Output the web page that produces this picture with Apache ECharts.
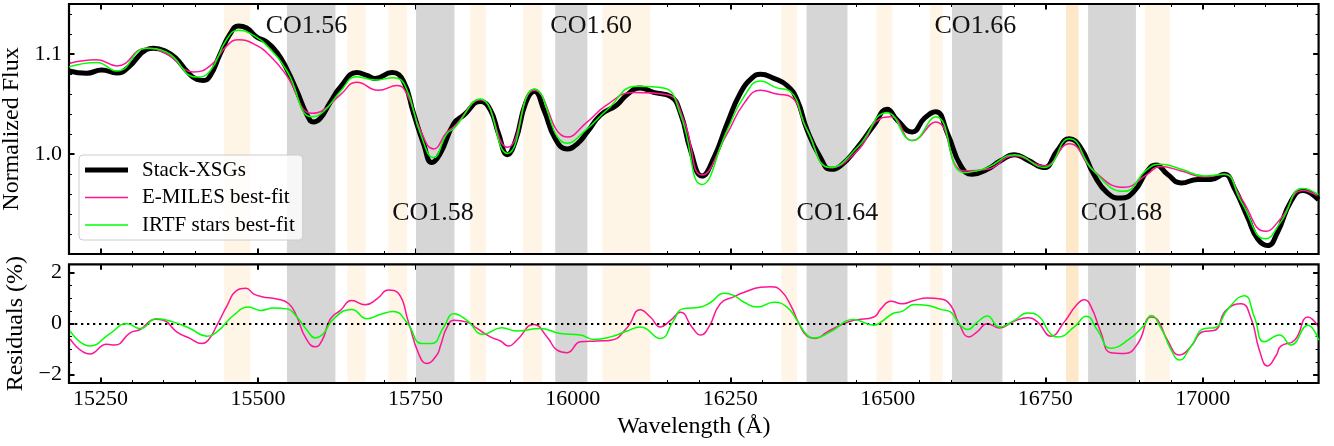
<!DOCTYPE html>
<html><head><meta charset="utf-8">
<script src="https://cdn.jsdelivr.net/npm/echarts@6/dist/echarts.min.js"></script>
<style>html,body{margin:0;padding:0;background:#fff}#c{width:1334px;height:446px}</style>
</head><body><div id="c"></div><script>
const stackWl = [15200,15228,15252,15276,15294,15323,15334,15355,15371,15387,
 15403,15413,15424,15440,15456,15469,15482,15498,15514,15530,
 15546,15562,15578,15588,15599,15614,15631,15657,15673,15686,
 15713,15731,15747,15763,15776,15789,15811,15827,15853,15869,
 15882,15896,15909,15925,15939,15954,15972,15991,16007,16023,
 16044,16070,16086,16107,16128,16155,16171,16187,16205,16224,
 16245,16266,16285,16298,16319,16340,16356,16372,16393,16409,
 16425,16452,16478,16499,16515,16539,16558,16576,16595,16616,
 16634,16658,16679,16701,16722,16748,16769,16788,16806,16827,
 16849,16870,16891,16912,16926,16944,16966,16992,17013,17034,
 17050,17072,17087,17103,17119,17140,17159,17184];
const stackFlux = [1.083,1.0807,1.084,1.081,1.0865,1.1044,1.1058,1.1023,1.095,1.083,
 1.0746,1.0736,1.078,1.1,1.1203,1.128,1.126,1.117,1.112,1.1017,
 1.0847,1.0627,1.039,1.032,1.0356,1.0509,1.067,1.0814,1.0786,1.0756,
 1.0814,1.0729,1.0407,1.0102,0.9915,1.0,1.0305,1.039,1.0525,1.044,
 1.0203,0.9993,1.0135,1.0509,1.0627,1.044,1.0153,1.0051,1.0102,1.022,
 1.039,1.0491,1.0593,1.0661,1.0616,1.0576,1.0407,1.0034,0.9779,0.9965,
 1.0305,1.061,1.0763,1.0797,1.0756,1.0685,1.0542,1.0239,0.9965,0.9847,
 0.9881,1.0067,1.0288,1.0448,1.0339,1.022,1.0356,1.0423,1.0203,0.9881,
 0.9797,0.9847,0.9932,0.9993,0.9939,0.9864,1.0034,1.0153,1.0067,0.9797,
 0.9609,0.9559,0.9627,0.983,0.9891,0.9797,0.9711,0.9746,0.9746,0.9797,
 0.966,0.9355,0.9152,0.9084,0.922,0.9525,0.9634,0.9542];

const emilesWl = [15200,15244,15276,15323,15355,15398,15424,15451,15469,15493,
 15519,15546,15586,15604,15631,15657,15691,15721,15737,15758,
 15779,15800,15811,15853,15896,15939,15991,16023,16054,16096,
 16150,16176,16205,16245,16272,16298,16324,16345,16372,16409,
 16452,16489,16505,16539,16576,16621,16658,16701,16748,16788,
 16827,16875,16912,16933,16966,17003,17034,17061,17100,17124,
 17159,17184];
const emilesFlux = [1.0905,1.0942,1.0881,1.1058,1.1,1.082,1.0881,1.1084,1.1142,1.1102,
 1.0983,1.0779,1.0407,1.044,1.0593,1.0718,1.0637,1.0685,1.0593,1.0239,
 1.0051,1.022,1.0271,1.0542,1.0067,1.0637,1.0169,1.0321,1.0491,1.0616,
 1.0593,1.0339,0.979,1.0203,1.0509,1.0637,1.06,1.0576,1.0239,0.9864,
 1.0034,1.0356,1.0372,1.0135,1.0321,0.983,0.9847,0.9983,0.9881,1.0102,
 0.983,0.9667,0.9797,0.9874,0.983,0.9772,0.9797,0.9559,0.9227,0.9355,
 0.9634,0.9576];

const irtfWl = [15200,15244,15276,15323,15355,15403,15424,15451,15469,15493,
 15519,15546,15586,15604,15631,15657,15686,15715,15734,15758,
 15779,15800,15811,15853,15896,15939,15991,16023,16054,16102,
 16144,16171,16205,16245,16272,16298,16324,16345,16372,16409,
 16452,16499,16539,16576,16621,16658,16701,16748,16788,16827,
 16875,16912,16933,16966,17003,17034,17061,17100,17124,17159,
 17184];
const irtfFlux = [1.0871,1.0916,1.083,1.1058,1.1017,1.0769,1.083,1.1153,1.1237,1.1186,
 1.1051,1.083,1.0372,1.0423,1.0627,1.0773,1.0739,1.0763,1.0678,1.0203,
 0.9965,1.0203,1.0254,1.0549,1.0006,1.0651,1.0108,1.0254,1.044,1.0678,
 1.0661,1.039,0.9695,1.0239,1.0576,1.0729,1.0661,1.0627,1.0239,0.9864,
 1.0067,1.0413,1.0135,1.0372,0.9813,0.9864,0.9993,0.9864,1.0153,0.983,
 0.9627,0.9847,0.9898,0.9847,0.9779,0.9797,0.9525,0.9152,0.9321,0.9654,
 0.9593];

const emilesResWl = [15202,15233,15260,15273,15297,15313,15337,15350,15371,15392,
 15411,15421,15435,15451,15466,15481,15493,15506,15530,15549,
 15562,15575,15591,15602,15615,15631,15649,15670,15689,15707,
 15723,15739,15755,15768,15784,15790,15800,15811,15832,15848,
 15869,15885,15898,15911,15938,15959,15975,15991,16012,16038,
 16060,16086,16107,16123,16139,16155,16171,16189,16203,16216,
 16234,16256,16272,16298,16314,16330,16346,16359,16372,16385,
 16404,16425,16446,16478,16489,16505,16523,16542,16563,16584,
 16600,16613,16629,16642,16658,16677,16701,16722,16738,16759,
 16780,16799,16812,16823,16838,16854,16876,16897,16918,16929,
 16944,16963,16981,17000,17019,17037,17061,17077,17090,17103,
 17117,17124,17146,17167,17184];
const emilesRes = [-0.61,-1.19,-0.81,-0.84,-0.36,-0.23,0.17,0.13,-0.32,-0.58,
 -0.78,-0.65,-0.06,0.71,1.30,1.39,1.17,1.06,0.97,0.78,
 0.26,-0.52,-0.91,-0.65,0.19,0.52,0.91,0.74,0.97,1.32,
 1.19,0.06,-1.17,-1.56,-1.23,-0.85,-0.15,0.13,0.06,-0.19,
 -0.52,-0.68,-0.88,-0.65,-0.03,-0.52,-1.04,-1.14,-0.71,-0.68,
 -0.65,-0.16,0.55,0.26,-0.13,0.13,0.45,-0.13,-0.45,-0.13,
 0.78,1.06,1.23,1.43,1.45,1.30,0.71,0.0,-0.49,-0.58,
 -0.32,-0.06,0.13,0.26,0.58,0.88,0.78,0.91,1.01,0.97,
 0.71,0.0,-0.52,-0.32,0.0,-0.17,0.10,0.23,0.06,-0.49,
 0.06,0.71,0.94,0.65,-0.32,-1.14,-1.17,-0.78,0.26,0.13,
 -0.65,-1.23,-0.91,-0.32,-0.26,0.52,0.78,0.19,-1.04,-1.66,
 -1.23,-0.88,-0.65,0.26,-0.13];

const irtfResWl = [15202,15233,15265,15292,15313,15339,15366,15392,15419,15435,
 15461,15485,15504,15525,15546,15562,15578,15591,15604,15620,
 15649,15673,15694,15715,15737,15760,15776,15795,15811,15832,
 15858,15887,15911,15948,15980,16012,16033,16060,16086,16107,
 16139,16160,16174,16203,16219,16240,16256,16272,16293,16319,
 16340,16356,16372,16385,16409,16446,16478,16489,16510,16523,
 16542,16563,16584,16600,16613,16627,16642,16658,16677,16701,
 16722,16738,16759,16770,16796,16815,16833,16854,16881,16907,
 16918,16934,16950,16963,16981,17003,17019,17040,17066,17082,
 17098,17122,17140,17167,17184];
const irtfRes = [-0.29,-0.88,-0.39,0.0,-0.19,0.19,0.06,-0.19,-0.49,-0.32,
 0.32,0.65,0.52,0.61,0.58,0.26,-0.26,-0.56,-0.39,0.19,
 0.56,0.19,0.36,0.48,0.03,-0.78,-0.78,-0.13,0.39,0.13,
 -0.42,-0.16,-0.29,-0.19,-0.39,-0.45,-0.62,-0.52,-0.29,-0.13,
 -0.58,0.13,0.58,0.65,0.84,1.19,1.10,0.84,0.65,0.84,
 0.65,0.13,-0.45,-0.56,-0.32,0.16,-0.06,0.06,0.42,0.48,
 0.75,0.71,0.56,0.45,0.0,-0.23,0.06,0.30,-0.13,0.13,
 0.42,0.32,-0.42,-0.52,-0.13,0.29,-0.26,-0.97,-0.65,-0.06,
 0.32,-0.19,-1.04,-1.43,-0.91,-0.19,-0.16,0.58,1.10,0.26,
 -0.71,-0.45,-0.84,-0.06,-0.65];

const grayBands = [[15546,15623],[15751,15812],[15972,16023],[16371,16436],[16602,16682],[16818,16894]];
const orangeBands = [[15446,15488],[15642,15671],[15707,15737],[15837,15862],[15921,15951],[16047,16123],[16331,16356],[16482,16507],[16567,16587],[16908,16948]];
const strongOrangeBands = [[16783,16803]];

const coLabels = ['CO1.56','CO1.58','CO1.60','CO1.64','CO1.66','CO1.68'];
const coLabelWl = [15577,15778,16029,16420,16639,16871];
const coLabelFlux = [1.128,0.941,1.128,0.941,1.128,0.941];

const xMajor = [15250,15500,15750,16000,16250,16500,16750,17000];
const xMinor = [15250,15300,15350,15400,15450,15500,15550,15600,15650,15700,15750,15800,15850,15900,15950,16000,16050,16100,16150,16200,16250,16300,16350,16400,16450,16500,16550,16600,16650,16700,16750,16800,16850,16900,16950,17000,17050,17100,17150];
const fluxMajor = [1.0,1.1];
const fluxMinor = [0.92,0.94,0.96,0.98,1.0,1.02,1.04,1.06,1.08,1.1,1.12,1.14];
const resMajor = [-2,0,2];
const resMinor = [-2,-1.5,-1,-0.5,0,0.5,1,1.5,2];

const FONT = 'Liberation Serif';
const XMIN = 15200, XMAX = 17184;
const zip = (a, b) => a.map((x, i) => [x, b[i]]);

function xAx(grid, pos, ticks, len, w, labels, name) {
  return {
    type: 'value', gridIndex: grid, position: pos, min: XMIN, max: XMAX,
    axisLine: {show: false, onZero: false}, splitLine: {show: false},
    axisTick: {show: true, inside: true, length: len, lineStyle: {color: '#000', width: w}, customValues: ticks},
    axisLabel: labels ? {show: true, customValues: ticks, margin: 5, color: '#000', fontFamily: FONT, fontSize: 22,
      formatter: v => String(v)} : {show: false},
    name: name || '', nameLocation: 'middle', nameGap: 32,
    nameTextStyle: {fontFamily: FONT, fontSize: 24, color: '#000'}
  };
}
function yAx(grid, pos, mn, mx, ticks, len, w, labels, name, fmt, gap) {
  return {
    type: 'value', gridIndex: grid, position: pos, min: mn, max: mx,
    axisLine: {show: false, onZero: false}, splitLine: {show: false},
    axisTick: {show: true, inside: true, length: len, lineStyle: {color: '#000', width: w}, customValues: ticks},
    axisLabel: labels ? {show: true, customValues: ticks, margin: 7, color: '#000', fontFamily: FONT, fontSize: 22,
      formatter: fmt} : {show: false},
    name: name || '', nameLocation: 'middle', nameGap: gap || 40,
    nameTextStyle: {fontFamily: FONT, fontSize: 24, color: '#000'}
  };
}
const fluxFmt = v => v.toFixed(1);
const resFmt = v => (v < 0 ? '\u2212' + Math.abs(v) : String(v));

const GRAY = '#d6d6d6', ORANGE = '#fef5e6', ORANGE2 = '#fde9c9';
function bandAreas() {
  const out = [];
  grayBands.forEach(b => out.push([{xAxis: b[0], itemStyle: {color: GRAY}}, {xAxis: b[1]}]));
  orangeBands.forEach(b => out.push([{xAxis: b[0], itemStyle: {color: ORANGE}}, {xAxis: b[1]}]));
  strongOrangeBands.forEach(b => out.push([{xAxis: b[0], itemStyle: {color: ORANGE2}}, {xAxis: b[1]}]));
  return out;
}

const PINK = '#ff1493', GREEN = '#00ff00';
const lineBase = {type: 'line', symbol: 'none', showSymbol: false, smooth: 0.5, z: 3, animation: false, clip: true};
const gridBase = {left: 69, right: 15.4, show: true, borderColor: '#000', borderWidth: 2.2, backgroundColor: 'transparent', z: 5,
  containLabel: false, outerBoundsMode: 'none'};

const option = {
  animation: false,
  backgroundColor: '#fff',
  grid: [
    Object.assign({}, gridBase, {top: 4, height: 250}),
    Object.assign({}, gridBase, {top: 264.3, height: 118.7})
  ],
  xAxis: [
    xAx(0, 'bottom', xMajor, 5.5, 2, false),
    xAx(0, 'bottom', xMinor, 3, 1, false),
    xAx(0, 'top', xMajor, 5.5, 2, false),
    xAx(0, 'top', xMinor, 3, 1, false),
    xAx(1, 'bottom', xMajor, 5.5, 2, true, 'Wavelength (\u00c5)'),
    xAx(1, 'bottom', xMinor, 3, 1, false),
    xAx(1, 'top', xMajor, 5.5, 2, false),
    xAx(1, 'top', xMinor, 3, 1, false)
  ],
  yAxis: [
    yAx(0, 'left', 0.9, 1.15, fluxMajor, 5.5, 2, true, 'Normalized Flux', fluxFmt, 38),
    yAx(0, 'left', 0.9, 1.15, fluxMinor, 3, 1, false),
    yAx(0, 'right', 0.9, 1.15, fluxMajor, 5.5, 2, false),
    yAx(0, 'right', 0.9, 1.15, fluxMinor, 3, 1, false),
    yAx(1, 'left', -2.33, 2.33, resMajor, 5.5, 2, true, 'Residuals (%)', resFmt, 38),
    yAx(1, 'left', -2.33, 2.33, resMinor, 3, 1, false),
    yAx(1, 'right', -2.33, 2.33, resMajor, 5.5, 2, false),
    yAx(1, 'right', -2.33, 2.33, resMinor, 3, 1, false)
  ],
  legend: {
    data: [
      {name: 'Stack-XSGs', icon: 'path://M0,0 L43,0 L43,5 L0,5 Z'},
      {name: 'E-MILES best-fit', icon: 'path://M0,0 L43,0 L43,1.6 L0,1.6 Z'},
      {name: 'IRTF stars best-fit', icon: 'path://M0,0 L43,0 L43,1.6 L0,1.6 Z'}
    ],
    orient: 'vertical', left: 79, top: 155,
    padding: [3, 8, 3, 6], itemGap: 3.5, itemWidth: 43, itemHeight: 14,
    itemStyle: {borderWidth: 0},
    backgroundColor: 'rgba(255,255,255,0.8)', borderColor: '#cccccc', borderWidth: 1, borderRadius: 4,
    textStyle: {fontFamily: FONT, fontSize: 21, color: '#000', lineHeight: 24, padding: [0, 0, 0, 9]},
    selectedMode: false, z: 10
  },
  series: [
    {type: 'line', name: 'bandsTop', xAxisIndex: 0, yAxisIndex: 0, data: [], z: 1, silent: true,
     markArea: {silent: true, data: bandAreas()},
     markPoint: {silent: true, symbol: 'rect', symbolSize: 1, itemStyle: {color: 'rgba(0,0,0,0)'},
       label: {show: true, position: 'inside', formatter: '{b}', fontFamily: FONT, fontSize: 26, color: '#111', textBorderWidth: 0},
       data: coLabels.map((t, i) => ({name: t, coord: [coLabelWl[i], coLabelFlux[i]]}))}},
    {type: 'line', name: 'bandsBottom', xAxisIndex: 4, yAxisIndex: 4, data: [], z: 1, silent: true,
     markArea: {silent: true, data: bandAreas()},
     markLine: {silent: true, symbol: ['none', 'none'], label: {show: false},
       lineStyle: {color: '#000', width: 2.2, type: [2.3, 3.7], cap: 'butt'}, data: [{yAxis: 0}]}},
    Object.assign({}, lineBase, {name: 'Stack-XSGs', xAxisIndex: 0, yAxisIndex: 0, data: zip(stackWl, stackFlux),
      lineStyle: {color: '#000', width: 5}, itemStyle: {color: '#000'}}),
    Object.assign({}, lineBase, {name: 'E-MILES best-fit', xAxisIndex: 0, yAxisIndex: 0, data: zip(emilesWl, emilesFlux),
      lineStyle: {color: PINK, width: 1.5}, itemStyle: {color: PINK}, z: 4}),
    Object.assign({}, lineBase, {name: 'IRTF stars best-fit', xAxisIndex: 0, yAxisIndex: 0, data: zip(irtfWl, irtfFlux),
      lineStyle: {color: GREEN, width: 1.5}, itemStyle: {color: GREEN}, z: 5}),
    Object.assign({}, lineBase, {name: 'E-MILES best-fit', xAxisIndex: 4, yAxisIndex: 4, data: zip(emilesResWl, emilesRes),
      lineStyle: {color: PINK, width: 1.5}, itemStyle: {color: PINK}, z: 4}),
    Object.assign({}, lineBase, {name: 'IRTF stars best-fit', xAxisIndex: 4, yAxisIndex: 4, data: zip(irtfResWl, irtfRes),
      lineStyle: {color: GREEN, width: 1.5}, itemStyle: {color: GREEN}, z: 5})
  ]
};
const chart = echarts.init(document.getElementById('c'), null, {renderer: 'canvas'});
chart.setOption(option);
</script></body></html>
